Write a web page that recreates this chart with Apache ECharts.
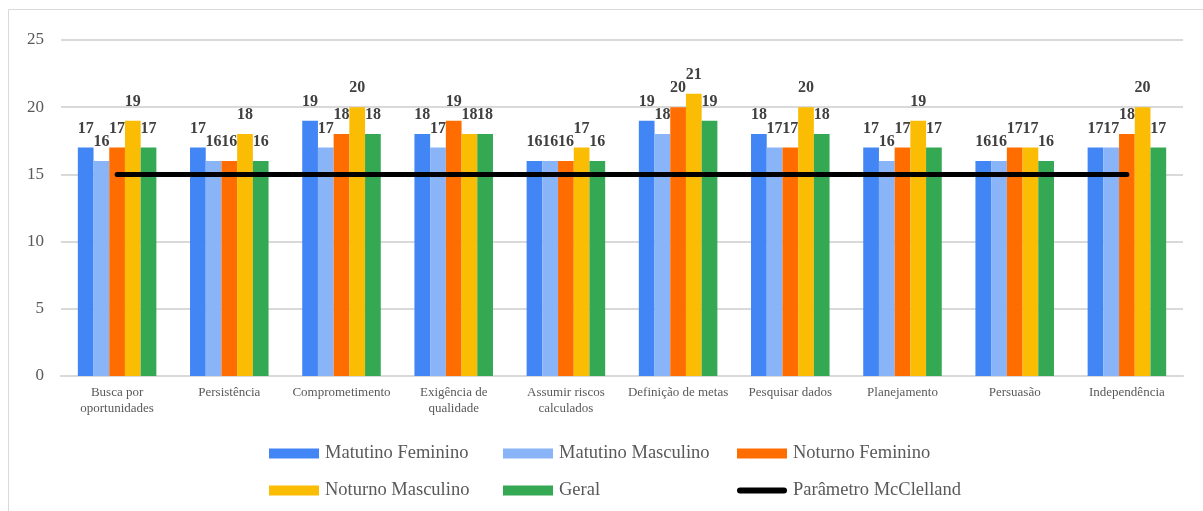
<!DOCTYPE html>
<html><head><meta charset="utf-8">
<script src="https://cdn.jsdelivr.net/npm/echarts@6/dist/echarts.min.js"></script>
<style>html,body{margin:0;padding:0;background:#fff}#c{width:1203px;height:511px}</style>
</head><body><div id="c"></div>
<script>
const categories = ["Busca por\noportunidades","Persistência","Comprometimento","Exigência de\nqualidade","Assumir riscos\ncalculados","Definição de metas","Pesquisar dados","Planejamento","Persuasão","Independência"];
const matutinoFeminino = [17,17,19,18,16,19,18,17,16,17];
const matutinoMasculino = [16,16,17,17,16,18,17,16,16,17];
const noturnoFeminino = [17,16,18,19,16,20,17,17,17,18];
const noturnoMasculino = [19,18,20,18,17,21,20,19,17,20];
const geral = [17,16,18,18,16,19,18,17,16,17];
const parametro = [15,15,15,15,15,15,15,15,15,15];
const yTicks = [0,5,10,15,20,25];

const serif = '"Liberation Serif","DejaVu Serif",serif';
const chart = echarts.init(document.getElementById('c'));
const lbl = {show:true, position:'top', distance:11, fontFamily:serif, fontWeight:'bold', fontSize:16, color:'#404040'};
function bar(name, data, color){
  return {name, type:'bar', data, barGap:'0%', barCategoryGap:'30%', itemStyle:{color}, label:lbl, emphasis:{disabled:true}};
}
const legText = {fontFamily:serif, fontSize:18.5, color:'#595959', padding:[0,0,0,1]};
function legend(left, data){
  return {left, top:439, orient:'vertical', itemWidth:50, itemHeight:10, itemGap:18, data, textStyle:legText, selectedMode:false};
}
chart.setOption({
  animation:false,
  graphic:[{type:'rect', shape:{x:8.5,y:9.5,width:1300,height:600}, style:{fill:'none', stroke:'#d9d9d9', lineWidth:1}, silent:true}],
  grid:{left:61, right:20, top:40, bottom:135},
  legend:[
    legend(264, [{name:'Matutino Feminino',icon:'rect'},{name:'Noturno Masculino',icon:'rect'}]),
    legend(498, [{name:'Matutino Masculino',icon:'rect'},{name:'Geral',icon:'rect'}]),
    legend(732, [{name:'Noturno Feminino', icon:'rect'},{name:'Parâmetro McClelland', icon:'path://M3,0 L47,0 A3,3 0 0 1 47,6 L3,6 A3,3 0 0 1 3,0 Z', itemStyle:{color:'#000'}}])
  ],
  xAxis:{type:'category', data:categories, axisTick:{show:false},
    axisLine:{lineStyle:{color:'#d9d9d9', width:2}},
    axisLabel:{fontFamily:serif, fontSize:13, color:'#595959', margin:9, lineHeight:16, interval:0}},
  yAxis:{type:'value', min:0, max:25, interval:5, axisLine:{show:false}, axisTick:{show:false},
    splitLine:{lineStyle:{color:'#d9d9d9', width:2}},
    axisLabel:{fontFamily:serif, fontSize:17, color:'#595959', margin:17,
      formatter:v=>yTicks.includes(v)?String(v):''}},
  series:[
    bar('Matutino Feminino', matutinoFeminino, '#4285F4'),
    bar('Matutino Masculino', matutinoMasculino, '#8AB4F8'),
    bar('Noturno Feminino', noturnoFeminino, '#FF6D01'),
    bar('Noturno Masculino', noturnoMasculino, '#FBBC04'),
    bar('Geral', geral, '#34A853'),
    {name:'Parâmetro McClelland', type:'line', data:parametro, symbol:'none', z:5,
      lineStyle:{color:'#000', width:5, cap:'round'}, itemStyle:{color:'#000'}, emphasis:{disabled:true}}
  ]
});
</script></body></html>
